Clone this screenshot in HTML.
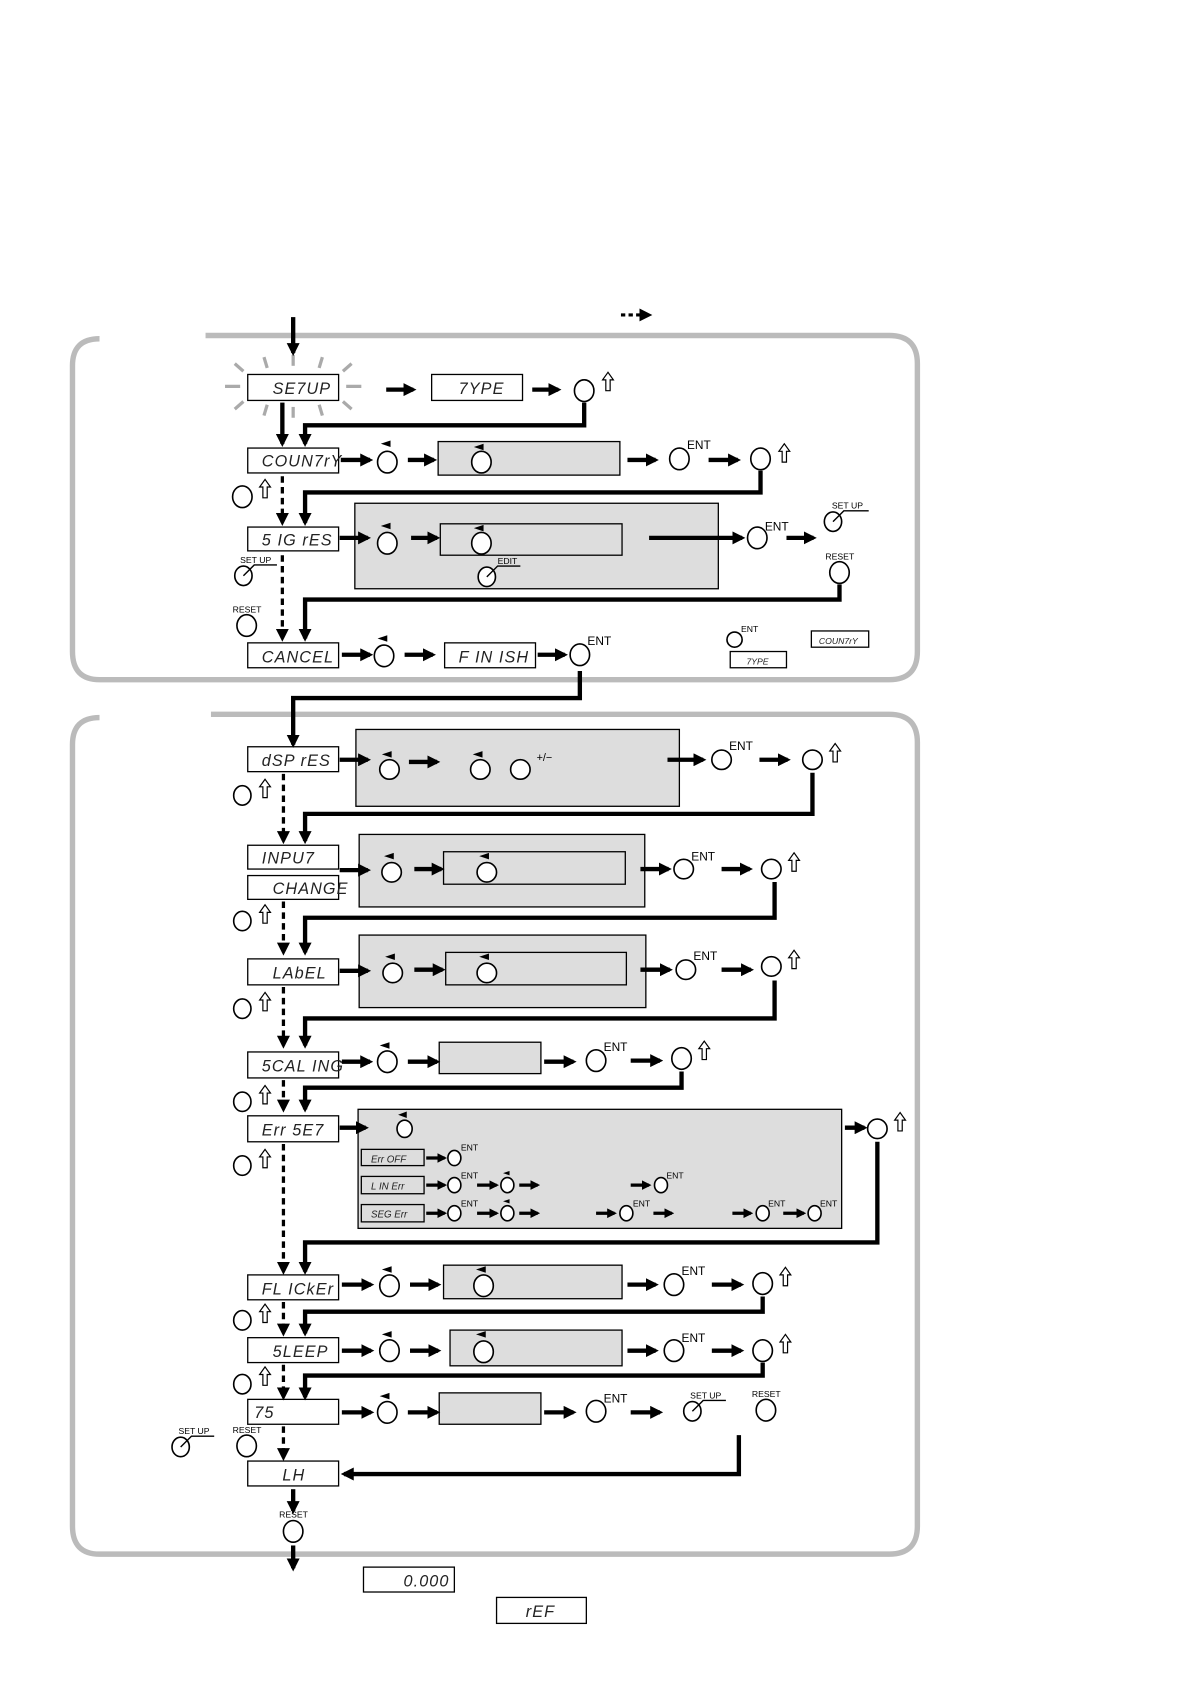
<!DOCTYPE html>
<html><head><meta charset="utf-8"><style>
html,body{margin:0;padding:0;background:#fff}
svg{display:block}
text{font-family:"Liberation Sans",sans-serif}
.s{font-style:italic;font-size:15px;letter-spacing:1px}
.m{font-size:8px}
.t{font-style:italic;font-size:10px}
</style></head><body>
<svg width="1190" height="1684" viewBox="0 0 1100 1556" preserveAspectRatio="none" xmlns="http://www.w3.org/2000/svg">
<defs>
<marker id="h" viewBox="0 0 12 12" refX="9" refY="6" markerWidth="12" markerHeight="12" markerUnits="userSpaceOnUse" orient="auto"><path d="M0,0 L12,6 L0,12 Z"/></marker>
<marker id="hs" viewBox="0 0 12 12" refX="9" refY="6" markerWidth="9" markerHeight="9" markerUnits="userSpaceOnUse" orient="auto"><path d="M0,0 L12,6 L0,12 Z"/></marker>
</defs>
<g fill="none" stroke="#bbb" stroke-width="5">
<path d="M92,313 Q67,313 67,338 V602 Q67,628 92,628 H822 Q848,628 848,602 V336 Q848,310 822,310 H190"/>
<path d="M92,663 Q67,663 67,688 V1410 Q67,1436 92,1436 H822 Q848,1436 848,1410 V686 Q848,660 822,660 H195"/>
</g>
<!-- sunburst -->
<g stroke="#aaa" stroke-width="3">
<line x1="208" y1="357" x2="222" y2="357"/><line x1="320" y1="357" x2="334" y2="357"/>
<line x1="217" y1="336" x2="225" y2="343"/><line x1="244" y1="330" x2="247" y2="340"/><line x1="271" y1="328" x2="271" y2="338"/><line x1="298" y1="330" x2="295" y2="340"/><line x1="325" y1="336" x2="317" y2="343"/>
<line x1="217" y1="378" x2="225" y2="371"/><line x1="244" y1="384" x2="247" y2="374"/><line x1="271" y1="386" x2="271" y2="376"/><line x1="298" y1="384" x2="295" y2="374"/><line x1="325" y1="378" x2="317" y2="371"/>
</g>
<!-- gray panels -->
<g fill="#ddd" stroke="#000" stroke-width="1.2">
<rect x="405" y="408" width="168" height="31"/>
<rect x="328" y="465" width="336" height="79"/>
<rect x="329" y="674" width="299" height="71"/>
<rect x="332" y="771" width="264" height="67"/>
<rect x="332" y="864" width="265" height="67"/>
<rect x="406" y="963" width="94" height="29"/>
<rect x="331" y="1025" width="447" height="110"/>
<rect x="410" y="1169" width="165" height="31"/>
<rect x="416" y="1229" width="159" height="33"/>
<rect x="406" y="1287" width="94" height="29"/>
</g>
<g fill="#ddd" stroke="#000" stroke-width="1.2">
<rect x="407" y="484" width="168" height="29"/>
<rect x="410" y="787" width="168" height="30"/>
<rect x="412" y="880" width="167" height="30"/>
</g>
<!-- display boxes -->
<g fill="#fff" stroke="#000" stroke-width="1.2">
<rect x="229" y="346" width="84" height="24"/><rect x="399" y="346" width="84" height="24"/>
<rect x="229" y="414" width="84" height="23"/><rect x="229" y="487" width="84" height="22"/>
<rect x="229" y="594" width="84" height="23"/><rect x="411" y="594" width="84" height="23"/>
<rect x="750" y="583" width="53" height="15"/><rect x="675" y="602" width="52" height="15"/>
<rect x="229" y="690" width="84" height="23"/><rect x="229" y="781" width="84" height="22"/><rect x="229" y="809" width="84" height="22"/>
<rect x="229" y="886" width="84" height="24"/><rect x="229" y="972" width="84" height="24"/><rect x="229" y="1031" width="84" height="24"/>
<rect x="229" y="1178" width="84" height="23"/><rect x="229" y="1236" width="84" height="23"/><rect x="229" y="1293" width="84" height="23"/><rect x="229" y="1350" width="84" height="23"/>
<rect x="336" y="1448" width="84" height="23"/><rect x="459" y="1476" width="83" height="24"/>
</g>
<g fill="#ddd" stroke="#000" stroke-width="1.2">
<rect x="334" y="1062" width="58" height="15"/><rect x="334" y="1087" width="58" height="16"/><rect x="334" y="1113" width="58" height="16"/>
</g>
<g class="s" fill="#222">
<text x="252" y="364">SE7UP</text><text x="424" y="364">7YPE</text>
<text x="242" y="431">COUN7rY</text><text x="242" y="504">5 IG rES</text>
<text x="242" y="612">CANCEL</text><text x="424" y="612">F IN ISH</text>
<text x="242" y="708">dSP rES</text><text x="242" y="798">INPU7</text><text x="252" y="826">CHANGE</text>
<text x="252" y="904">LAbEL</text><text x="242" y="990">5CAL ING</text><text x="242" y="1049">Err  5E7</text>
<text x="242" y="1196">FL ICkEr</text><text x="252" y="1254">5LEEP</text><text x="235" y="1310">75</text><text x="261" y="1368">LH</text>
<text x="373" y="1466">0.000</text><text x="486" y="1494">rEF</text>
</g>
<g class="t" fill="#222">
<text x="757" y="595" font-size="8">COUN7rY</text><text x="690" y="614" font-size="8">7YPE</text>
<text x="343" y="1074" font-size="9">Err  OFF</text><text x="343" y="1099" font-size="9">L IN Err</text><text x="343" y="1125" font-size="9">SEG Err</text>
</g>
<!-- straight arrows -->
<g stroke="#000" stroke-width="4" marker-end="url(#h)">
<line x1="271" y1="293" x2="271" y2="326"/>
<line x1="357" y1="360" x2="382" y2="360"/><line x1="492" y1="360" x2="516" y2="360"/>
<line x1="261" y1="372" x2="261" y2="410"/>
<line x1="315" y1="425" x2="342" y2="425"/><line x1="377" y1="425" x2="401" y2="425"/><line x1="580" y1="425" x2="606" y2="425"/><line x1="655" y1="425" x2="682" y2="425"/>
<line x1="314" y1="497" x2="340" y2="497"/><line x1="380" y1="497" x2="404" y2="497"/><line x1="600" y1="497" x2="686" y2="497"/><line x1="727" y1="497" x2="752" y2="497"/>
<line x1="316" y1="605" x2="342" y2="605"/><line x1="374" y1="605" x2="400" y2="605"/><line x1="497" y1="605" x2="522" y2="605"/>
<line x1="314" y1="702" x2="340" y2="702"/><line x1="378" y1="704" x2="404" y2="704"/><line x1="617" y1="702" x2="650" y2="702"/><line x1="702" y1="702" x2="728" y2="702"/>
<line x1="314" y1="804" x2="340" y2="804"/><line x1="383" y1="803" x2="408" y2="803"/><line x1="592" y1="803" x2="618" y2="803"/><line x1="667" y1="803" x2="693" y2="803"/>
<line x1="314" y1="897" x2="340" y2="897"/><line x1="383" y1="896" x2="409" y2="896"/><line x1="592" y1="896" x2="619" y2="896"/><line x1="667" y1="896" x2="694" y2="896"/>
<line x1="316" y1="981" x2="342" y2="981"/><line x1="377" y1="981" x2="404" y2="981"/><line x1="503" y1="981" x2="530" y2="981"/><line x1="583" y1="980" x2="610" y2="980"/>
<line x1="314" y1="1042" x2="338" y2="1042"/><line x1="781" y1="1042" x2="799" y2="1042"/>
<line x1="316" y1="1187" x2="343" y2="1187"/><line x1="379" y1="1187" x2="405" y2="1187"/><line x1="580" y1="1187" x2="606" y2="1187"/><line x1="658" y1="1187" x2="685" y2="1187"/>
<line x1="316" y1="1248" x2="343" y2="1248"/><line x1="379" y1="1248" x2="405" y2="1248"/><line x1="580" y1="1248" x2="606" y2="1248"/><line x1="658" y1="1248" x2="685" y2="1248"/>
<line x1="316" y1="1305" x2="343" y2="1305"/><line x1="377" y1="1305" x2="404" y2="1305"/><line x1="503" y1="1305" x2="530" y2="1305"/><line x1="583" y1="1305" x2="610" y2="1305"/>
<line x1="271" y1="1376" x2="271" y2="1396"/><line x1="271" y1="1428" x2="271" y2="1449"/>
</g>
<g stroke="#000" stroke-width="3" marker-end="url(#hs)">
<line x1="394" y1="1070" x2="411" y2="1070"/><line x1="394" y1="1095" x2="411" y2="1095"/><line x1="441" y1="1095" x2="459" y2="1095"/><line x1="480" y1="1095" x2="497" y2="1095"/><line x1="583" y1="1095" x2="600" y2="1095"/>
<line x1="394" y1="1121" x2="411" y2="1121"/><line x1="441" y1="1121" x2="459" y2="1121"/><line x1="480" y1="1121" x2="497" y2="1121"/><line x1="551" y1="1121" x2="568" y2="1121"/><line x1="604" y1="1121" x2="621" y2="1121"/><line x1="677" y1="1121" x2="694" y2="1121"/><line x1="724" y1="1121" x2="743" y2="1121"/>
</g>
<!-- connectors -->
<g fill="none" stroke="#000" stroke-width="4" marker-end="url(#h)">
<polyline points="540,372 540,393 282,393 282,410"/>
<polyline points="703,435 703,455 282,455 282,483"/>
<polyline points="776,540 776,554 282,554 282,590"/>
<polyline points="536,620 536,645 271,645 271,688"/>
<polyline points="751,714 751,752 282,752 282,777"/>
<polyline points="716,815 716,848 282,848 282,880"/>
<polyline points="716,906 716,941 282,941 282,966"/>
<polyline points="630,990 630,1005 282,1005 282,1025"/>
<polyline points="811,1055 811,1148 282,1148 282,1175"/>
<polyline points="705,1198 705,1212 282,1212 282,1232"/>
<polyline points="705,1259 705,1271 282,1271 282,1291"/>
<polyline points="683,1326 683,1362 318,1362"/>
</g>
<!-- dashed -->
<g stroke="#000" stroke-width="3" stroke-dasharray="6,4" marker-end="url(#h)">
<line x1="261" y1="440" x2="261" y2="483"/><line x1="261" y1="513" x2="261" y2="590"/>
<line x1="262" y1="715" x2="262" y2="777"/><line x1="262" y1="833" x2="262" y2="880"/><line x1="262" y1="912" x2="262" y2="966"/><line x1="262" y1="998" x2="262" y2="1025"/><line x1="262" y1="1057" x2="262" y2="1175"/>
<line x1="262" y1="1203" x2="262" y2="1232"/><line x1="262" y1="1261" x2="262" y2="1291"/><line x1="262" y1="1318" x2="262" y2="1347"/>
<line x1="574" y1="291" x2="600" y2="291" stroke-dasharray="4,3"/>
</g>
<!-- circles -->
<g fill="#fff" stroke="#000" stroke-width="1.5">
<ellipse cx="540" cy="361" rx="9" ry="10"/>
<ellipse cx="358" cy="427" rx="9" ry="10"/><ellipse cx="445" cy="427" rx="9" ry="10"/><ellipse cx="628" cy="424" rx="9" ry="10"/><ellipse cx="703" cy="424" rx="9" ry="10"/><ellipse cx="224" cy="459" rx="9" ry="10"/>
<ellipse cx="358" cy="502" rx="9" ry="10"/><ellipse cx="445" cy="502" rx="9" ry="10"/><ellipse cx="450" cy="533" rx="8" ry="9"/><ellipse cx="700" cy="497" rx="9" ry="10"/><ellipse cx="770" cy="482" rx="8" ry="9"/><ellipse cx="776" cy="529" rx="9" ry="10"/>
<ellipse cx="225" cy="532" rx="8" ry="9"/><ellipse cx="228" cy="578" rx="9" ry="10"/>
<ellipse cx="355" cy="606" rx="9" ry="10"/><ellipse cx="536" cy="605" rx="9" ry="10"/><ellipse cx="679" cy="591" rx="7" ry="7"/>
<ellipse cx="360" cy="711" rx="9" ry="9"/><ellipse cx="444" cy="711" rx="9" ry="9"/><ellipse cx="481" cy="711" rx="9" ry="9"/><ellipse cx="667" cy="702" rx="9" ry="9"/><ellipse cx="751" cy="702" rx="9" ry="9"/><ellipse cx="224" cy="735" rx="8" ry="9"/>
<ellipse cx="362" cy="806" rx="9" ry="9"/><ellipse cx="450" cy="806" rx="9" ry="9"/><ellipse cx="632" cy="803" rx="9" ry="9"/><ellipse cx="713" cy="803" rx="9" ry="9"/><ellipse cx="224" cy="851" rx="8" ry="9"/>
<ellipse cx="363" cy="899" rx="9" ry="9"/><ellipse cx="450" cy="899" rx="9" ry="9"/><ellipse cx="634" cy="896" rx="9" ry="9"/><ellipse cx="713" cy="893" rx="9" ry="9"/><ellipse cx="224" cy="932" rx="8" ry="9"/>
<ellipse cx="358" cy="981" rx="9" ry="10"/><ellipse cx="551" cy="980" rx="9" ry="10"/><ellipse cx="630" cy="978" rx="9" ry="10"/><ellipse cx="224" cy="1018" rx="8" ry="9"/>
<ellipse cx="374" cy="1043" rx="7" ry="8"/><ellipse cx="811" cy="1043" rx="9" ry="9"/><ellipse cx="224" cy="1077" rx="8" ry="9"/>
<ellipse cx="420" cy="1070" rx="6" ry="7"/><ellipse cx="420" cy="1095" rx="6" ry="7"/><ellipse cx="469" cy="1095" rx="6" ry="7"/><ellipse cx="611" cy="1095" rx="6" ry="7"/>
<ellipse cx="420" cy="1121" rx="6" ry="7"/><ellipse cx="469" cy="1121" rx="6" ry="7"/><ellipse cx="579" cy="1121" rx="6" ry="7"/><ellipse cx="705" cy="1121" rx="6" ry="7"/><ellipse cx="753" cy="1121" rx="6" ry="7"/>
<ellipse cx="360" cy="1188" rx="9" ry="10"/><ellipse cx="447" cy="1188" rx="9" ry="10"/><ellipse cx="623" cy="1187" rx="9" ry="10"/><ellipse cx="705" cy="1186" rx="9" ry="10"/><ellipse cx="224" cy="1220" rx="8" ry="9"/>
<ellipse cx="360" cy="1248" rx="9" ry="10"/><ellipse cx="447" cy="1249" rx="9" ry="10"/><ellipse cx="623" cy="1248" rx="9" ry="10"/><ellipse cx="705" cy="1248" rx="9" ry="10"/><ellipse cx="224" cy="1279" rx="8" ry="9"/>
<ellipse cx="358" cy="1305" rx="9" ry="10"/><ellipse cx="551" cy="1304" rx="9" ry="10"/><ellipse cx="640" cy="1304" rx="8" ry="9"/><ellipse cx="708" cy="1303" rx="9" ry="10"/>
<ellipse cx="167" cy="1337" rx="8" ry="9"/><ellipse cx="228" cy="1336" rx="9" ry="10"/><ellipse cx="271" cy="1415" rx="9" ry="10"/>
</g>
<!-- slanted lines for SET UP / EDIT -->
<g stroke="#000" stroke-width="1.3" fill="none">
<polyline points="770,482 780,472 803,472"/><polyline points="450,533 460,523 481,523"/><polyline points="225,532 235,522 256,522"/>
<polyline points="640,1304 650,1294 671,1294"/><polyline points="167,1337 177,1327 198,1327"/>
</g>
<!-- ◄ markers -->
<g fill="#000">
<path d="M352,410 l9,-3 v6z"/><path d="M438,413 l9,-3 v6z"/><path d="M352,486 l9,-3 v6z"/><path d="M438,488 l9,-3 v6z"/><path d="M349,590 l9,-3 v6z"/>
<path d="M353,697 l9,-3 v6z"/><path d="M437,697 l9,-3 v6z"/><path d="M355,791 l9,-3 v6z"/><path d="M443,791 l9,-3 v6z"/><path d="M356,884 l9,-3 v6z"/><path d="M443,884 l9,-3 v6z"/>
<path d="M351,966 l9,-3 v6z"/><path d="M368,1030 l8,-3 v6z"/><path d="M465,1084 l6,-2 v4z"/><path d="M465,1110 l6,-2 v4z"/>
<path d="M353,1173 l9,-3 v6z"/><path d="M440,1173 l9,-3 v6z"/><path d="M353,1233 l9,-3 v6z"/><path d="M440,1233 l9,-3 v6z"/><path d="M351,1290 l9,-3 v6z"/>
</g>
<!-- hollow up arrows -->
<g fill="#fff" stroke="#000" stroke-width="1.1">
<path id="u" d="M562,344 l-5,7 h3 v10 h4 v-10 h3z"/>
<path d="M725,410 l-5,7 h3 v10 h4 v-10 h3z"/><path d="M245,443 l-5,7 h3 v10 h4 v-10 h3z"/>
<path d="M772,687 l-5,7 h3 v10 h4 v-10 h3z"/><path d="M245,720 l-5,7 h3 v10 h4 v-10 h3z"/>
<path d="M734,788 l-5,7 h3 v10 h4 v-10 h3z"/><path d="M245,836 l-5,7 h3 v10 h4 v-10 h3z"/>
<path d="M734,878 l-5,7 h3 v10 h4 v-10 h3z"/><path d="M245,917 l-5,7 h3 v10 h4 v-10 h3z"/>
<path d="M651,962 l-5,7 h3 v10 h4 v-10 h3z"/><path d="M245,1003 l-5,7 h3 v10 h4 v-10 h3z"/>
<path d="M832,1028 l-5,7 h3 v10 h4 v-10 h3z"/><path d="M245,1062 l-5,7 h3 v10 h4 v-10 h3z"/>
<path d="M726,1171 l-5,7 h3 v10 h4 v-10 h3z"/><path d="M245,1205 l-5,7 h3 v10 h4 v-10 h3z"/>
<path d="M726,1233 l-5,7 h3 v10 h4 v-10 h3z"/><path d="M245,1263 l-5,7 h3 v10 h4 v-10 h3z"/>
</g>
<!-- labels -->
<g fill="#000" font-size="11">
<text x="635" y="415">ENT</text><text x="707" y="490">ENT</text><text x="543" y="596">ENT</text>
<text x="674" y="693">ENT</text><text x="639" y="795">ENT</text><text x="641" y="887">ENT</text><text x="558" y="971">ENT</text>
<text x="630" y="1178">ENT</text><text x="630" y="1240">ENT</text><text x="558" y="1296">ENT</text>
<text x="496" y="703" font-size="10">+/−</text>
</g>
<g class="m" fill="#000">
<text x="685" y="584">ENT</text>
<text x="769" y="470">SET UP</text><text x="763" y="517">RESET</text><text x="460" y="521">EDIT</text>
<text x="222" y="520">SET UP</text><text x="215" y="566">RESET</text>
<text x="426" y="1063">ENT</text><text x="426" y="1089">ENT</text><text x="616" y="1089">ENT</text>
<text x="426" y="1115">ENT</text><text x="585" y="1115">ENT</text><text x="710" y="1115">ENT</text><text x="758" y="1115">ENT</text>
<text x="638" y="1292">SET UP</text><text x="695" y="1291">RESET</text>
<text x="165" y="1325">SET UP</text><text x="215" y="1324">RESET</text><text x="258" y="1402">RESET</text>
</g>
</svg>
</body></html>
